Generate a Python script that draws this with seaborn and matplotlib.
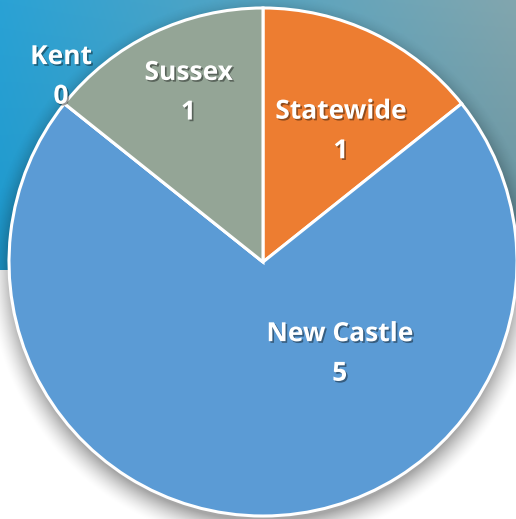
import numpy as np
import matplotlib
matplotlib.use("Agg")
import matplotlib.pyplot as plt
import matplotlib.patheffects as pe
import seaborn as sns

sns.set_theme(style="white")
plt.rcParams["font.family"] = ["Open Sans", "DejaVu Sans"]

# data
regions = ["Statewide", "New Castle", "Kent", "Sussex"]
counts = [1, 5, 0, 1]
colors = ["#ED7D31", "#5B9BD5", "#A5A5A5", "#94A596"]
# where each label sits (fraction of radius, angle shift in degrees)
label_dist = [0.60, 0.47, 1.08, 0.73]
label_shift = [-5, 40, -4, -2]

W, H = 516, 519
cx, cy, R = 263, 519 - 262, 254

fig = plt.figure(figsize=(W / 100, H / 100), dpi=100)
ax = fig.add_axes([0, 0, 1, 1])
ax.set_xlim(0, W)
ax.set_ylim(0, H)
ax.set_aspect("equal")
ax.axis("off")

# gradient band at the top
band_top, band_bot = H, H - 270
gx = np.linspace(0, 1, 200)[None, :, None]
gy = np.linspace(0, 1, 100)[:, None, None]
tl = np.array([42, 162, 213]) / 255
tr = np.array([130, 166, 174]) / 255
bl = np.array([30, 152, 204]) / 255
br = np.array([100, 146, 160]) / 255
grad = (1 - gy) * ((1 - gx) * tl + gx * tr) + gy * ((1 - gx) * bl + gx * br)
ax.imshow(grad, extent=[0, W, band_bot, band_top], origin="upper",
          aspect="auto", zorder=0, interpolation="bilinear")

# soft drop shadow behind the pie
yy, xx = np.mgrid[0:H, 0:W]
d = np.hypot(xx - cx, (H - yy) - (cy - 8))
sh = np.clip((R + 22 - d) / 26, 0, 1) ** 1.6 * 0.35
rgba = np.zeros((H, W, 4))
rgba[..., 3] = sh
ax.imshow(rgba, extent=[0, W, 0, H], origin="upper", zorder=1)

wedges, _ = ax.pie(counts, colors=colors, startangle=90, counterclock=False,
                   center=(cx, cy), radius=R, frame=True,
                   wedgeprops=dict(edgecolor="white", linewidth=2.2))
for w in wedges:
    w.set_zorder(2)
ax.set_xlim(0, W)
ax.set_ylim(0, H)
ax.axis("off")

shadow = [pe.SimplePatchShadow(offset=(1.2, -1.2), shadow_rgbFace="black", alpha=0.4),
          pe.Normal()]
for w, name, n, dist, shift in zip(wedges, regions, counts, label_dist, label_shift):
    ang = np.deg2rad((w.theta1 + w.theta2) / 2 + shift)
    x = cx + dist * R * np.cos(ang)
    y = cy + dist * R * np.sin(ang)
    ax.text(x, y, f"{name}\n{n}", ha="center", va="center", color="white",
            fontsize=19, fontweight="bold", linespacing=1.6,
            path_effects=shadow, zorder=5)

fig.savefig("out.png", dpi=100)
